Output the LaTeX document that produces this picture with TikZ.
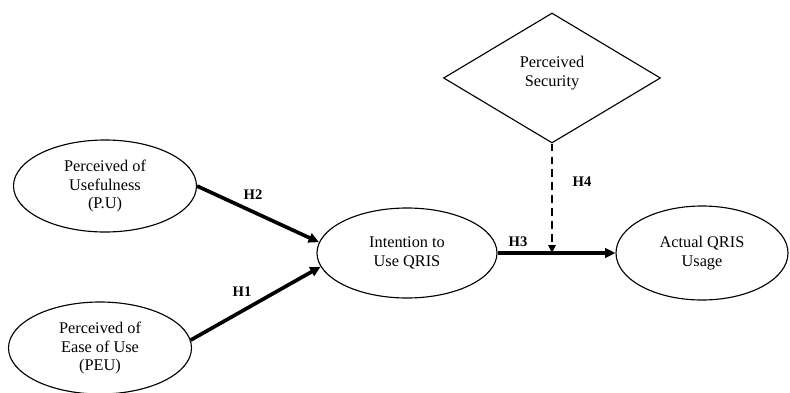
\documentclass[tikz,border=0pt]{standalone}
\usepackage{fontspec}
\setmainfont{Liberation Serif}
\usetikzlibrary{shapes.geometric,arrows.meta}

\begin{document}
\begin{tikzpicture}[
    construct/.style={ellipse, draw, line width=0.8pt, align=center,
        inner sep=0pt, font=\fontsize{11.6}{13.5}\selectfont},
    hyp/.style={font=\fontsize{10.4}{12}\selectfont\bfseries},
    path/.style={line width=2.6pt, -{Triangle[length=2.6mm,width=2.4mm]}},
    moderate/.style={line width=1.7pt, dash pattern=on 5.6pt off 3.6pt,
        -{Triangle[length=2mm,width=1.8mm]}}
]

\useasboundingbox (0,0) rectangle (19.75,9.8);

% Constructs
\node[construct, minimum width=4.575cm, minimum height=2.3cm] (PU) at (2.625,5.15)
    {Perceived of\\Usefulness\\(P.U)};
\node[construct, minimum width=4.575cm, minimum height=2.3cm] (PEU) at (2.5,1.1)
    {Perceived of\\Ease of Use\\(PEU)};
\node[construct, minimum width=4.5cm, minimum height=2.25cm] (IU) at (10.175,3.475)
    {Intention to\\Use QRIS};
\node[construct, minimum width=4.3cm, minimum height=2.35cm] (AU) at (17.55,3.475)
    {Actual QRIS\\Usage};

% Moderator
\node[diamond, draw, line width=0.8pt, align=center, inner sep=0pt,
    minimum width=5.425cm, minimum height=3.25cm,
    font=\fontsize{11.6}{13.5}\selectfont] (PS) at (13.8,7.85)
    {Perceived\\Security\\[-0.15cm]};

% Paths
\draw[path] (PU.east) -- (IU.173);
\draw[path] (PEU.5) -- (IU.189);
\draw[path] (IU.east) -- (AU.west);

\coordinate (M) at (PS.south |- IU.east);
\draw[moderate] (PS.south) -- (M);

% Hypotheses
\node[hyp] (H2) at (6.325,4.925) {H2};
\node[hyp] (H1) at (6.05,2.5) {H1};
\node[hyp] (H3) at (12.95,3.75) {H3};
\node[hyp] (H4) at (14.55,5.25) {H4};

\end{tikzpicture}
\end{document}
